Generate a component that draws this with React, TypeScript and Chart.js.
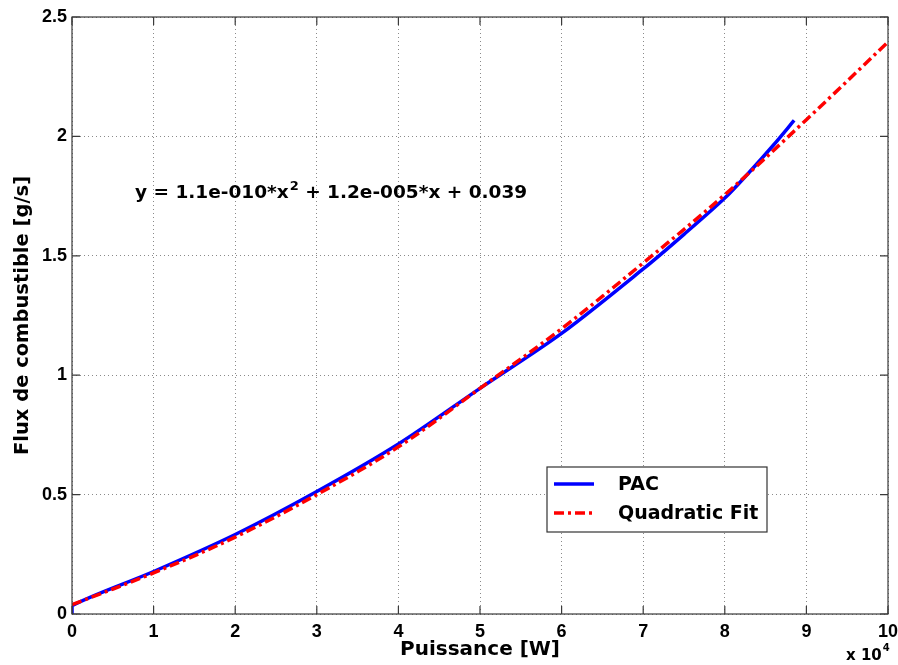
import React, { useEffect, useRef } from 'react';
import { Chart, registerables } from 'chart.js';

Chart.register(...registerables);

// Puissance in units of 1e4 W
const pacX = [0, 0, 1, 2, 3, 4, 5, 6, 7, 7.5, 8, 8.3, 8.6, 8.85];
const pacY = [0, 0.035, 0.178, 0.333, 0.513, 0.712, 0.945, 1.175, 1.445, 1.59, 1.742, 1.85, 1.965, 2.067];
const fitX = [0, 1, 2, 3, 4, 5, 6, 7, 8, 9, 10];
const fitY = [0.039, 0.172, 0.322, 0.5, 0.7, 0.945, 1.195, 1.47, 1.756, 2.07, 2.395];
const xTicks = [0, 1, 2, 3, 4, 5, 6, 7, 8, 9, 10];
const yTicks = [0, 0.5, 1, 1.5, 2, 2.5];
const seriesLabels = ['PAC', 'Quadratic Fit'];
const equationParts = ['y = 1.1e-010*x', '2', ' + 1.2e-005*x + 0.039'];
const xTitle = 'Puissance [W]';
const yTitle = 'Flux de combustible [g/s]';
const exponentLabel = ['x 10', '4'];

const BOLD = 'bold';
const DV = '"DejaVu Sans", sans-serif';
const AR = '"Liberation Sans", Arial, sans-serif';

const decorPlugin = {
  id: 'decor',
  afterDraw(chart: any) {
    const ctx = chart.ctx as CanvasRenderingContext2D;
    const { left, right, top, bottom } = chart.chartArea;
    const xs = chart.scales.x;
    const ys = chart.scales.y;
    ctx.save();
    // box
    ctx.strokeStyle = '#3a3a3a';
    ctx.lineWidth = 1.2;
    ctx.strokeRect(left, top, right - left, bottom - top);
    // inward ticks
    const tl = 8;
    ctx.beginPath();
    xTicks.forEach((t) => {
      const px = xs.getPixelForValue(t);
      ctx.moveTo(px, bottom);
      ctx.lineTo(px, bottom - tl);
      ctx.moveTo(px, top);
      ctx.lineTo(px, top + tl);
    });
    yTicks.forEach((t) => {
      const py = ys.getPixelForValue(t);
      ctx.moveTo(left, py);
      ctx.lineTo(left + tl, py);
      ctx.moveTo(right, py);
      ctx.lineTo(right - tl, py);
    });
    ctx.stroke();

    // equation
    ctx.fillStyle = '#000';
    ctx.textBaseline = 'alphabetic';
    ctx.textAlign = 'left';
    let ex = 135;
    const ey = 198;
    ctx.font = `${BOLD} 18.5px ${DV}`;
    ctx.fillText(equationParts[0], ex, ey);
    ex += ctx.measureText(equationParts[0]).width + 1;
    ctx.font = `${BOLD} 13px ${DV}`;
    ctx.fillText(equationParts[1], ex, ey - 8);
    ex += ctx.measureText(equationParts[1]).width;
    ctx.font = `${BOLD} 18.5px ${DV}`;
    ctx.fillText(equationParts[2], ex, ey);

    // exponent label
    ctx.font = `${BOLD} 15px ${DV}`;
    ctx.fillText(exponentLabel[0], 846, 660);
    const w = ctx.measureText(exponentLabel[0]).width;
    ctx.font = `${BOLD} 10px ${DV}`;
    ctx.fillText(exponentLabel[1], 846 + w + 1, 651);

    // legend
    const lx = 547, ly = 467, lw = 220, lh = 65;
    ctx.fillStyle = '#fff';
    ctx.fillRect(lx, ly, lw, lh);
    ctx.strokeStyle = '#333';
    ctx.lineWidth = 1.2;
    ctx.strokeRect(lx, ly, lw, lh);
    const ds = chart.data.datasets;
    const rows = [484, 513];
    ds.forEach((d: any, i: number) => {
      ctx.beginPath();
      ctx.strokeStyle = d.borderColor;
      ctx.lineWidth = d.borderWidth;
      ctx.setLineDash(d.borderDash || []);
      ctx.moveTo(554, rows[i]);
      ctx.lineTo(594, rows[i]);
      ctx.stroke();
      ctx.setLineDash([]);
      ctx.fillStyle = '#000';
      ctx.font = `${BOLD} 19px ${DV}`;
      ctx.textBaseline = 'middle';
      ctx.fillText(d.label, 618, rows[i] + 1);
    });
    ctx.restore();
  },
};

export default function App() {
  const ref = useRef<HTMLCanvasElement | null>(null);
  useEffect(() => {
    if (!ref.current) return;
    const chart = new Chart(ref.current, {
      type: 'line',
      data: {
        datasets: [
          {
            label: seriesLabels[0],
            data: pacX.map((x, i) => ({ x, y: pacY[i] })),
            borderColor: '#0000ff',
            borderWidth: 3.5,
            pointRadius: 0,
            tension: 0.3,
            fill: false,
            order: 1,
          },
          {
            label: seriesLabels[1],
            data: fitX.map((x, i) => ({ x, y: fitY[i] })),
            borderColor: '#ff0000',
            borderWidth: 3.5,
            borderDash: [10, 4, 3, 4],
            pointRadius: 0,
            tension: 0.35,
            fill: false,
            order: 0,
          },
        ],
      },
      options: {
        animation: false,
        responsive: false,
        devicePixelRatio: 1,
        layout: { padding: { top: 17, right: 10, left: 0, bottom: 0 } },
        plugins: { legend: { display: false }, tooltip: { enabled: false } },
        scales: {
          x: {
            type: 'linear',
            min: 0,
            max: 10,
            afterFit: (s: any) => { s.height = 51; s.paddingRight = 0; s.paddingLeft = 0; },
            afterBuildTicks: (s: any) => { s.ticks = xTicks.map((v) => ({ value: v })); },
            ticks: { color: '#000', padding: 7, font: { family: AR, weight: 'bold', size: 18 }, callback: (v: any) => String(v) },
            grid: { color: '#8a8a8a', lineWidth: 1, drawTicks: false },
            border: { display: false, dash: [1, 3] },
            title: { display: true, text: xTitle, color: '#000', padding: { top: 0, bottom: 3 }, font: { family: DV, weight: 'bold', size: 20 } },
          },
          y: {
            type: 'linear',
            min: 0,
            max: 2.5,
            afterFit: (s: any) => { s.width = 72; s.paddingTop = 0; s.paddingBottom = 0; },
            afterBuildTicks: (s: any) => { s.ticks = yTicks.map((v) => ({ value: v })); },
            ticks: { color: '#000', padding: 5, font: { family: AR, weight: 'bold', size: 18 }, callback: (v: any) => String(v) },
            grid: { color: '#8a8a8a', lineWidth: 1, drawTicks: false },
            border: { display: false, dash: [1, 3] },
            title: { display: true, text: yTitle, color: '#000', padding: { top: 11, bottom: 0 }, font: { family: DV, weight: 'bold', size: 19.5 } },
          },
        },
      },
      plugins: [decorPlugin],
    } as any);
    return () => chart.destroy();
  }, []);
  return (
    <div style={{ position: 'absolute', left: 0, top: 0, width: 898, height: 665, background: '#fff' }}>
      <canvas ref={ref} width={898} height={665} style={{ width: 898, height: 665, display: 'block' }} />
    </div>
  );
}
